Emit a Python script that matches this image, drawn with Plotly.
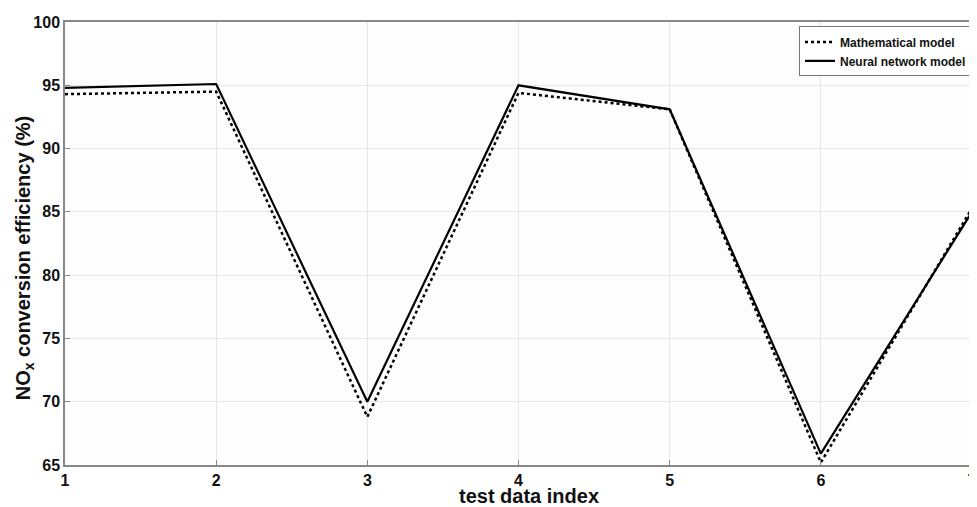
import plotly.graph_objects as go

test_index = [1, 2, 3, 4, 5, 6, 7]
math_model = [94.3, 94.5, 68.8, 94.4, 93.1, 65.2, 85.3]
nn_model = [94.8, 95.1, 70.0, 95.0, 93.1, 65.9, 85.0]
y_ticks = [65, 70, 75, 80, 85, 90, 95, 100]
x_ticks = [1, 2, 3, 4, 5, 6, 7]

FONT = "Liberation Sans, Arial, sans-serif"

fig = go.Figure()
fig.add_trace(go.Scatter(x=test_index, y=math_model, mode="lines",
                         name="<b>Mathematical model</b>",
                         line=dict(color="black", width=2.5, dash="dot")))
fig.add_trace(go.Scatter(x=test_index, y=nn_model, mode="lines",
                         name="<b>Neural network model</b>",
                         line=dict(color="black", width=2.2)))

fig.update_layout(
    width=969, height=499,
    margin=dict(l=57, r=0, t=14, b=42),
    paper_bgcolor="white", plot_bgcolor="#fdfdfd",
    font=dict(family=FONT, color="#111", size=14),
    showlegend=True,
    legend=dict(x=1.0, y=0.99, xanchor="right", yanchor="top",
                bgcolor="white", bordercolor="#777", borderwidth=1,
                font=dict(size=12, family=FONT, color="#111"),
                tracegroupgap=0, itemwidth=30),
    xaxis=dict(range=[1, 7], tickvals=x_ticks,
               ticktext=["<b>%d</b>" % v for v in x_ticks],
               ticklabeloverflow="allow",
               showgrid=True, gridcolor="#e6e6e6", gridwidth=1,
               showline=True, linecolor="#888", linewidth=1.5, mirror=True,
               ticks="inside", ticklen=5, tickcolor="#888",
               tickfont=dict(size=16, family=FONT, color="#111"),
               zeroline=False),
    yaxis=dict(range=[65, 100], tickvals=y_ticks,
               ticktext=["<b>%d</b>" % v for v in y_ticks],
               showgrid=True, gridcolor="#e6e6e6", gridwidth=1,
               showline=True, linecolor="#888", linewidth=1.5, mirror=True,
               ticks="inside", ticklen=5, tickcolor="#888",
               tickfont=dict(size=16, family=FONT, color="#111"),
               zeroline=False),
    annotations=[
        dict(text="<b>test data index</b>", xref="paper", yref="paper",
             x=0.512, y=-0.071, xanchor="center", yanchor="middle",
             showarrow=False, font=dict(size=20, family=FONT, color="#111")),
        dict(text="<b>NO<sub>x</sub> conversion efficiency (%)</b>", xref="paper", yref="paper",
             x=-0.045, y=0.467, xanchor="center", yanchor="middle", textangle=-90,
             showarrow=False, font=dict(size=20, family=FONT, color="#111")),
    ],
)

fig.write_html("out.html")
